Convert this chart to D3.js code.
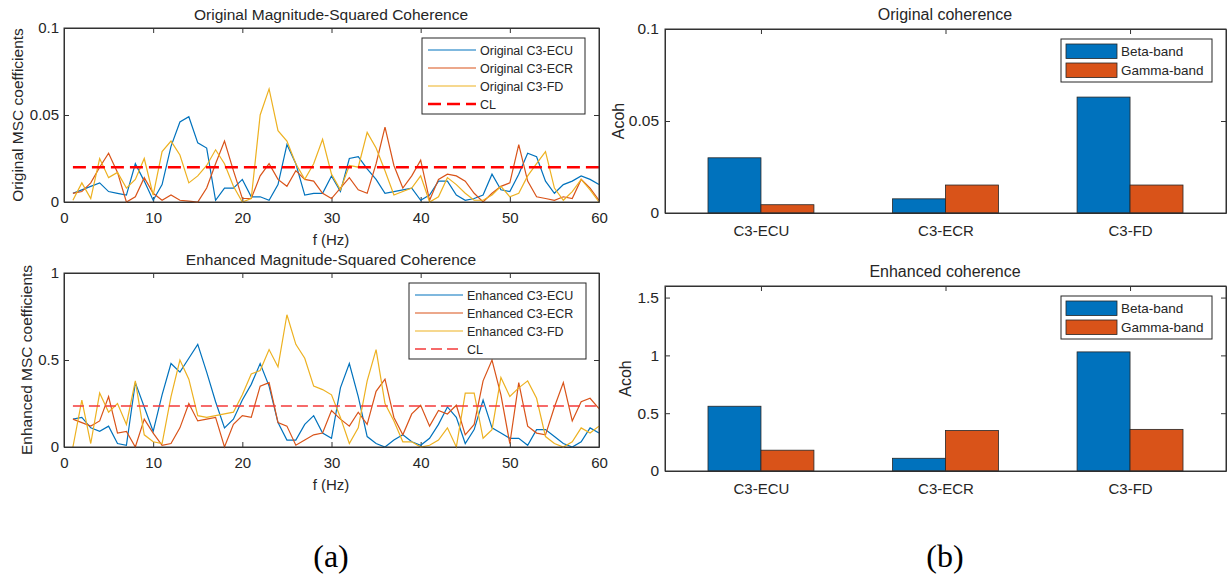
<!DOCTYPE html>
<html>
<head>
<meta charset="utf-8">
<script src="https://cdn.jsdelivr.net/npm/d3@7"></script>
<style>
  body { margin: 0; background: #fff; }
  text { font-family: "Liberation Sans", Arial, sans-serif; fill: #262626; }
  .axis path, .axis line { stroke: #333; }
  .axis text { font-size: 15px; }
</style>
</head>
<body>
<script>
// frequencies 1..60 Hz
var freqs = d3.range(1, 61);

// original MSC (top left)
var origECU = [0.005,0.007,0.009,0.011,0.006,0.005,0.004,0.022,0.012,0.001,0.010,0.032,0.046,0.049,0.034,0.031,0.001,0.008,0.008,0.013,0.003,0.003,0.001,0.010,0.033,0.022,0.004,
  0.005,0.005,0.015,0.006,0.025,0.026,0.019,0.013,0.005,0.006,0.007,0.008,0.001,0.004,0.012,0.012,0.004,0.001,0.002,0.004,0.016,0.007,0.006,0.016,0.028,0.026,0.012,0.005,0.010,0.012,0.015,0.013,0.010];
var origECR = [0.005,0.006,0.011,0.020,0.028,0.017,0.000,0.003,0.014,0.005,0.001,0.004,0.001,0.0005,0.000,0.008,0.022,0.035,0.018,0.002,0.002,0.015,0.022,0.013,0.009,0.018,0.013,
  0.012,0.005,0.002,0.008,0.014,0.007,0.005,0.022,0.043,0.021,0.008,0.015,0.024,0.001,0.013,0.016,0.015,0.012,0.005,0.000,0.005,0.009,0.011,0.033,0.012,0.003,0.002,0.001,0.003,0.002,0.013,0.008,0.001];
var origFD = [0.001,0.011,0.002,0.025,0.014,0.017,0.008,0.013,0.025,0.004,0.029,0.035,0.027,0.011,0.015,0.021,0.030,0.022,0.009,0.000,0.002,0.050,0.065,0.041,0.035,0.022,0.013,
  0.022,0.036,0.016,0.007,0.021,0.020,0.040,0.031,0.018,0.004,0.006,0.008,0.015,0.000,0.003,0.014,0.010,0.005,0.001,0.001,0.004,0.009,0.003,0.005,0.015,0.022,0.029,0.008,0.001,0.006,0.013,0.007,0.000];
var origCL = 0.02;

// enhanced MSC (bottom left)
var enhECU = [0.16,0.17,0.11,0.09,0.12,0.02,0.01,0.37,0.23,0.09,0.30,0.48,0.43,0.51,0.59,0.43,0.26,0.11,0.16,0.27,0.36,0.48,0.35,0.14,0.04,0.04,0.13,
  0.18,0.08,0.05,0.34,0.48,0.29,0.06,0.02,0.00,0.04,0.07,0.03,0.01,0.05,0.13,0.23,0.17,0.02,0.10,0.27,0.11,0.08,0.05,0.05,0.01,0.10,0.10,0.06,0.02,0.00,0.03,0.11,0.08];
var enhECR = [0.16,0.14,0.12,0.15,0.29,0.08,0.09,0.00,0.16,0.08,0.01,0.02,0.11,0.25,0.15,0.16,0.17,0.00,0.13,0.18,0.17,0.35,0.37,0.14,0.12,0.01,0.04,
  0.07,0.08,0.21,0.16,0.12,0.20,0.13,0.32,0.39,0.17,0.07,0.19,0.24,0.12,0.21,0.19,0.24,0.07,0.13,0.38,0.50,0.30,0.02,0.37,0.12,0.08,0.07,0.23,0.37,0.15,0.26,0.28,0.22];
var enhFD = [0.00,0.27,0.02,0.31,0.20,0.25,0.13,0.38,0.07,0.03,0.02,0.29,0.50,0.39,0.18,0.17,0.18,0.19,0.20,0.30,0.42,0.44,0.56,0.46,0.76,0.59,0.51,
  0.35,0.33,0.30,0.17,0.02,0.11,0.38,0.56,0.25,0.15,0.03,0.03,0.00,0.01,0.04,0.11,0.00,0.31,0.31,0.05,0.10,0.40,0.29,0.34,0.38,0.28,0.06,0.02,0.00,0.03,0.11,0.08,0.12];
var enhCL = 0.235;

// band coherence (right)
var channels = ["C3-ECU", "C3-ECR", "C3-FD"];
var origBeta = [0.030, 0.0077, 0.063];
var origGamma = [0.0045, 0.0152, 0.0152];
var enhBeta = [0.56, 0.11, 1.03];
var enhGamma = [0.18, 0.35, 0.36];
var bands = ["Beta-band", "Gamma-band"];

var blue = "#0072BD", orange = "#D95319", yellow = "#EDB120";
var fmt = d3.format("~g");

var svg = d3.select("body").append("svg")
    .attr("width", 1229).attr("height", 577);
svg.append("rect").attr("width", 1229).attr("height", 577).attr("fill", "#fff");

// ---- line panels ----
function linePanel(o) {
  var x = d3.scaleLinear().domain([0, 60]).range([64, 599]);
  var y = d3.scaleLinear().domain([0, o.ymax]).range([o.bottom, o.top]);
  var g = svg.append("g");

  g.append("g").attr("class", "axis").attr("transform", "translate(0," + o.bottom + ")")
    .call(d3.axisBottom(x).tickValues(d3.range(0, 61, 10)).tickSizeInner(-5).tickSizeOuter(0).tickPadding(10));
  g.append("g").attr("class", "axis").attr("transform", "translate(0," + o.top + ")")
    .call(d3.axisTop(x).tickValues(d3.range(0, 61, 10)).tickSizeInner(-5).tickSizeOuter(0).tickFormat(""));
  g.append("g").attr("class", "axis").attr("transform", "translate(64,0)")
    .call(d3.axisLeft(y).tickValues(o.yticks).tickFormat(fmt).tickSizeInner(-5).tickSizeOuter(0).tickPadding(5));
  g.append("g").attr("class", "axis").attr("transform", "translate(599,0)")
    .call(d3.axisRight(y).tickValues(o.yticks).tickSizeInner(-5).tickSizeOuter(0).tickFormat(""));

  var line = d3.line().x(function(d, i) { return x(freqs[i]); }).y(function(d) { return y(d); });
  o.series.forEach(function(s) {
    g.append("path").datum(s.values).attr("d", line)
      .attr("fill", "none").attr("stroke", s.color).attr("stroke-width", 1.2);
  });
  g.append("line").attr("x1", x(1)).attr("x2", x(60)).attr("y1", y(o.cl)).attr("y2", y(o.cl))
    .attr("stroke", o.clColor).attr("stroke-width", o.clWidth).attr("stroke-dasharray", o.clDash);

  g.append("rect").attr("x", 64).attr("y", o.top).attr("width", 535).attr("height", o.bottom - o.top)
    .attr("fill", "none").attr("stroke", "#333");

  g.append("text").attr("x", 331).attr("y", o.top - 8).attr("text-anchor", "middle")
    .style("font-size", "15.5px").text(o.title);
  g.append("text").attr("x", 331).attr("y", o.bottom + 43).attr("text-anchor", "middle")
    .style("font-size", "15px").text("f (Hz)");
  g.append("text").attr("transform", "translate(" + o.ylabX + "," + ((o.top + o.bottom) / 2) + ") rotate(-90)")
    .attr("text-anchor", "middle").style("font-size", "15.5px").text(o.ylabel);

  // legend
  var L = o.legend;
  g.append("rect").attr("x", L.x).attr("y", L.y).attr("width", L.w).attr("height", 76)
    .attr("fill", "#fff").attr("stroke", "#262626");
  var items = o.series.map(function(s) { return { name: s.name, color: s.color, w: 1.2, dash: null }; });
  items.push({ name: "CL", color: o.clColor, w: o.clWidth, dash: o.clDash });
  items.forEach(function(it, i) {
    var cy = L.y + 12 + i * 18;
    g.append("line").attr("x1", L.x + 6).attr("x2", L.x + L.lw).attr("y1", cy).attr("y2", cy)
      .attr("stroke", it.color).attr("stroke-width", it.w).attr("stroke-dasharray", it.dash);
    g.append("text").attr("x", L.x + L.lw + 4).attr("y", cy + 4.5)
      .style("font-size", "12.5px").text(it.name);
  });
}

linePanel({
  top: 28, bottom: 202, ymax: 0.1, yticks: [0, 0.05, 0.1],
  title: "Original Magnitude-Squared Coherence", ylabel: "Original MSC coefficients", ylabX: 23,
  series: [
    { name: "Original C3-ECU", color: blue, values: origECU },
    { name: "Original C3-ECR", color: orange, values: origECR },
    { name: "Original C3-FD", color: yellow, values: origFD }
  ],
  cl: origCL, clColor: "#ff0000", clWidth: 2.5, clDash: "13,6",
  legend: { x: 422, y: 38, w: 163, lw: 54 }
});

linePanel({
  top: 273, bottom: 447, ymax: 1, yticks: [0, 0.5, 1],
  title: "Enhanced Magnitude-Squared Coherence", ylabel: "Enhanced MSC coefficients", ylabX: 32,
  series: [
    { name: "Enhanced C3-ECU", color: blue, values: enhECU },
    { name: "Enhanced C3-ECR", color: orange, values: enhECR },
    { name: "Enhanced C3-FD", color: yellow, values: enhFD }
  ],
  cl: enhCL, clColor: "#f33a3a", clWidth: 1.5, clDash: "11,5",
  legend: { x: 409, y: 283, w: 177, lw: 54 }
});

// ---- bar panels ----
function barPanel(o) {
  var x = d3.scaleLinear().domain([0.48, 3.52]).range([665, 1226]);
  var y = d3.scaleLinear().domain([0, o.ymax]).range([o.bottom, o.top]);
  var g = svg.append("g");
  var bw = 0.287;

  g.append("g").attr("class", "axis").attr("transform", "translate(0," + o.bottom + ")")
    .call(d3.axisBottom(x).tickValues([1, 2, 3]).tickFormat(function(d) { return channels[d - 1]; })
      .tickSizeInner(0).tickSizeOuter(0).tickPadding(12));
  g.append("g").attr("class", "axis").attr("transform", "translate(0," + o.top + ")")
    .call(d3.axisTop(x).tickValues([1, 2, 3]).tickSizeInner(-5).tickSizeOuter(0).tickFormat(""));
  g.append("g").attr("class", "axis").attr("transform", "translate(665,0)")
    .call(d3.axisLeft(y).tickValues(o.yticks).tickFormat(fmt).tickSizeInner(-5).tickSizeOuter(0).tickPadding(6))
    .selectAll("text").style("font-size", "15.5px");
  g.append("g").attr("class", "axis").attr("transform", "translate(1226,0)")
    .call(d3.axisRight(y).tickValues(o.yticks).tickSizeInner(-5).tickSizeOuter(0).tickFormat(""));

  [o.beta, o.gamma].forEach(function(vals, k) {
    g.selectAll(null).data(vals).enter().append("rect")
      .attr("x", function(d, i) { return x(i + 1 + (k - 1) * bw); })
      .attr("width", x(bw) - x(0))
      .attr("y", function(d) { return y(d); })
      .attr("height", function(d) { return y(0) - y(d); })
      .attr("fill", k ? orange : blue).attr("stroke", "#262626").attr("stroke-width", 0.8);
  });

  g.append("rect").attr("x", 665).attr("y", o.top).attr("width", 561).attr("height", o.bottom - o.top)
    .attr("fill", "none").attr("stroke", "#333");

  g.append("text").attr("x", 945).attr("y", o.top - 9).attr("text-anchor", "middle")
    .style("font-size", "16px").text(o.title);
  g.append("text").attr("transform", "translate(" + o.ylabX + "," + ((o.top + o.bottom) / 2) + ") rotate(-90)")
    .attr("text-anchor", "middle").style("font-size", "16px").text("Acoh");

  var ly = o.top + 10;
  g.append("rect").attr("x", 1061).attr("y", ly).attr("width", 151).attr("height", 43)
    .attr("fill", "#fff").attr("stroke", "#262626");
  bands.forEach(function(b, i) {
    g.append("rect").attr("x", 1066).attr("y", ly + 5 + i * 19).attr("width", 51).attr("height", 14.5)
      .attr("fill", i ? orange : blue).attr("stroke", "#262626").attr("stroke-width", 0.8);
    g.append("text").attr("x", 1121).attr("y", ly + 17 + i * 19)
      .style("font-size", "13.5px").text(b);
  });
}

barPanel({ top: 29, bottom: 213, ymax: 0.1, yticks: [0, 0.05, 0.1], title: "Original coherence",
  beta: origBeta, gamma: origGamma, ylabX: 624 });
barPanel({ top: 286, bottom: 471, ymax: 1.6, yticks: [0, 0.5, 1, 1.5], title: "Enhanced coherence",
  beta: enhBeta, gamma: enhGamma, ylabX: 631 });

// panel captions
svg.append("text").attr("x", 331).attr("y", 567).attr("text-anchor", "middle")
  .style("font-family", "'Liberation Serif', 'Times New Roman', serif").style("font-size", "32px")
  .style("fill", "#000").text("(a)");
svg.append("text").attr("x", 945).attr("y", 567).attr("text-anchor", "middle")
  .style("font-family", "'Liberation Serif', 'Times New Roman', serif").style("font-size", "32px")
  .style("fill", "#000").text("(b)");
</script>
</body>
</html>
